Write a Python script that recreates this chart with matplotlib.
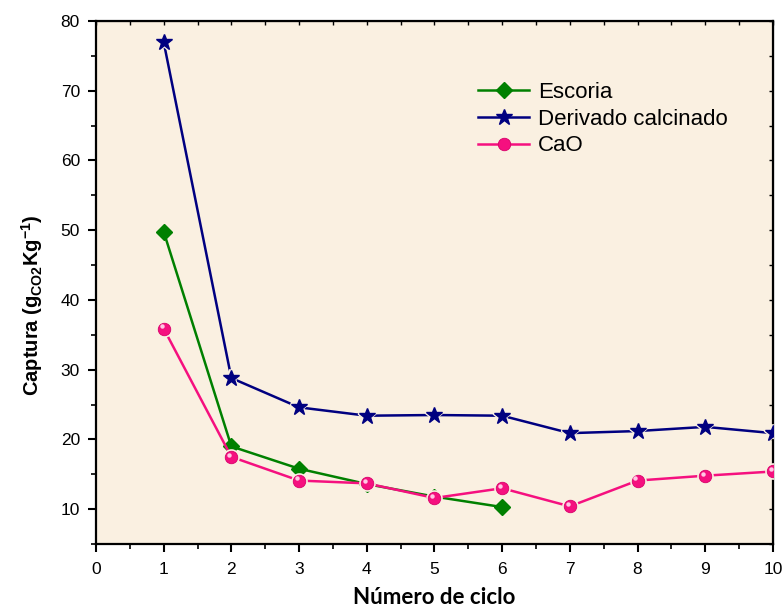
import matplotlib.pyplot as plt
import matplotlib.transforms as mtransforms
import numpy as np

# capture per cycle for each sorbent
ciclo_escoria = [1, 2, 3, 4, 5, 6]
escoria = [49.8, 19.0, 15.8, 13.6, 11.8, 10.3]

ciclo_derivado = [1, 2, 3, 4, 5, 6, 7, 8, 9, 10]
derivado = [77.0, 28.8, 24.6, 23.4, 23.5, 23.4, 20.9, 21.2, 21.8, 20.9]

ciclo_cao = [1, 2, 3, 4, 5, 6, 7, 8, 9, 10]
cao = [35.9, 17.5, 14.1, 13.7, 11.6, 13.0, 10.4, 14.1, 14.8, 15.4]

plt.rcParams['font.family'] = ['Arial', 'Liberation Sans', 'DejaVu Sans']
plt.rcParams['mathtext.fontset'] = 'custom'
plt.rcParams['mathtext.rm'] = 'Liberation Sans'
plt.rcParams['mathtext.bf'] = 'Liberation Sans:bold'

fondo = '#FAF0E1'
verde = '#008000'
azul = '#000080'
rosa = '#F5107F'

fig = plt.figure(figsize=(7.84, 6.09), dpi=100)
ax = fig.add_axes([0.1224, 0.1067, 0.8635, 0.8588])
ax.set_facecolor(fondo)

ax.plot(ciclo_escoria, escoria, color=verde, lw=1.8, marker='D', ms=8,
        label='Escoria', zorder=3)
# gap between line and markers, then the markers on top
ax.plot(ciclo_derivado, derivado, color=azul, lw=1.8, zorder=3)
ax.plot(ciclo_derivado, derivado, ls='none', marker='*', ms=12, color=azul,
        mec=fondo, mew=3, zorder=4)
ax.plot(ciclo_derivado, derivado, color=azul, lw=1.8, marker='*', ms=12,
        ls='none', zorder=5)
ax.plot(ciclo_cao, cao, color=rosa, lw=1.8, zorder=3)
ax.plot(ciclo_cao, cao, ls='none', marker='o', ms=9, color=rosa,
        mec=fondo, mew=3, zorder=4)
ax.plot(ciclo_cao, cao, ls='none', marker='o', ms=9, color=rosa,
        mec='#D8006A', mew=0.6, zorder=5)
# small highlight on the CaO balls
brillo = mtransforms.offset_copy(ax.transData, fig=fig, x=-1.5, y=1.5,
                                 units='points')
ax.plot(ciclo_cao, cao, ls='none', marker='o', ms=3.2, color='#FFC8E4',
        mec='none', transform=brillo, zorder=6)

# legend handles
ax.plot([], [], color=azul, lw=1.8, marker='*', ms=12, label='Derivado calcinado')
ax.plot([], [], color=rosa, lw=1.8, marker='o', ms=9, mec='#D8006A', mew=0.6,
        label='CaO')

ax.set_xlim(0, 10)
ax.set_ylim(5, 80)
ax.set_xticks(np.arange(0, 11, 1))
ax.set_xticks(np.arange(0.5, 10, 1), minor=True)
ax.set_yticks(np.arange(10, 81, 10))
ax.set_yticks(np.arange(5, 80, 10), minor=True)
ax.tick_params(which='major', direction='out', length=6, width=1.5,
               labelsize=12.5, top=False, right=False)
ax.tick_params(axis='x', which='major', pad=7)
ax.tick_params(axis='y', which='major', pad=5.5)
ax.tick_params(which='minor', direction='out', length=3.5, width=1.2,
               top=False, right=False)
for s in ax.spines.values():
    s.set_linewidth(1.6)

# inner ticks on top and right edges
ax2 = ax.secondary_xaxis('top')
ax2.set_xticks(np.arange(0, 11, 1))
ax2.set_xticks(np.arange(0.5, 10, 1), minor=True)
ax2.tick_params(which='both', direction='in', length=3, width=1,
                labeltop=False)
ay2 = ax.secondary_yaxis('right')
ay2.set_yticks(np.arange(10, 81, 10))
ay2.set_yticks(np.arange(5, 80, 10), minor=True)
ay2.tick_params(which='both', direction='in', length=3, width=1,
                labelright=False)

ax.set_xlabel('Número de ciclo', fontsize=16, fontweight='bold', labelpad=7,
              family=['Lato', 'DejaVu Sans'])
ax.set_ylabel(r'Captura (g$_{\mathbf{CO2}}$Kg$^{\mathbf{-1}}$)', fontsize=14.5,
              fontweight='bold')
ax.yaxis.set_label_coords(-0.075, 0.457)

handles, labels = ax.get_legend_handles_labels()
fig.legend(handles, labels, loc='upper left', bbox_to_anchor=(0.6097, 0.865),
           frameon=False, fontsize=16, handlelength=2.3, handletextpad=0.4,
           labelspacing=0.25, borderpad=0, borderaxespad=0)

fig.savefig('out.png', dpi=100)
